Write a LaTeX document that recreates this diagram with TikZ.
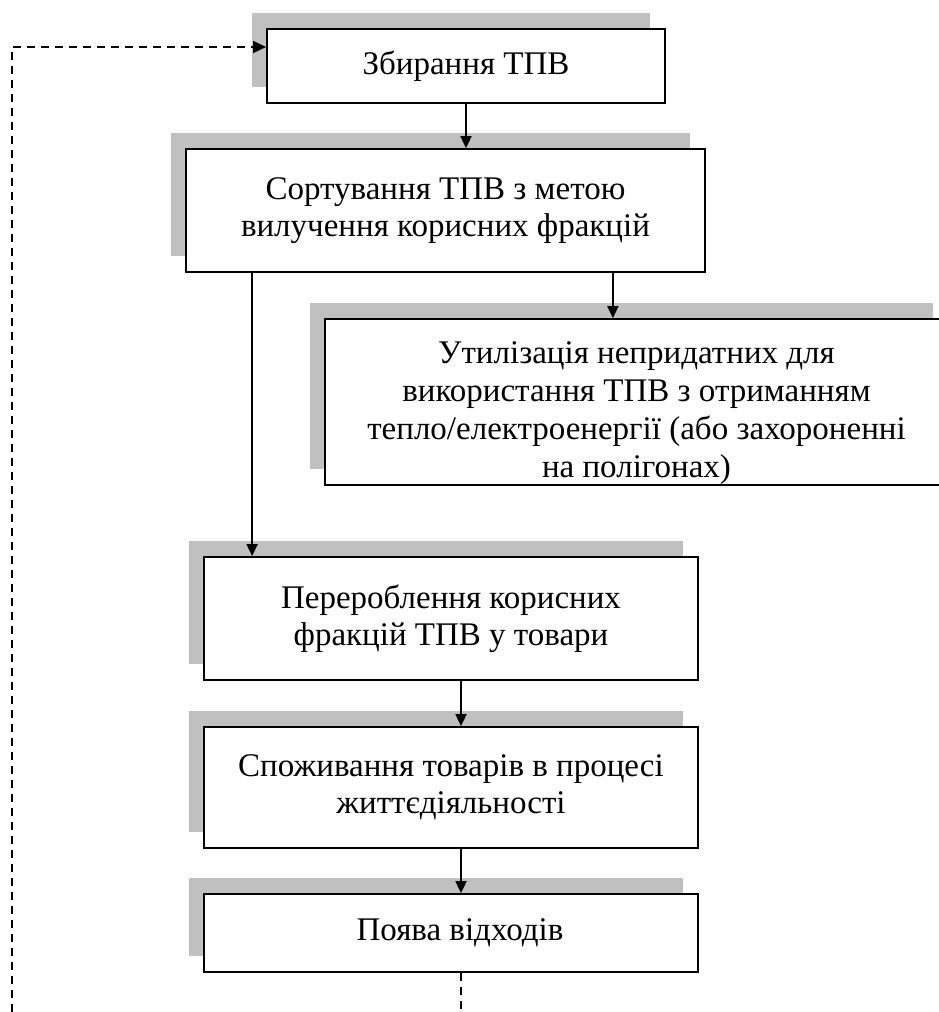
\documentclass[tikz,border=0pt]{standalone}
\usepackage{fontspec}
\setmainfont{Liberation Serif}
\usetikzlibrary{arrows.meta,shadows,calc}
\definecolor{shade}{RGB}{192,192,192}
\begin{document}
\begin{tikzpicture}[x=1pt,y=-1pt,
  box/.style={draw=black, line width=1.8pt, fill=white, align=center, inner sep=0pt,
    font=\fontsize{33}{37.5}\selectfont,
    general shadow={fill=shade, draw=none, shadow xshift=-15pt, shadow yshift=16pt}},
  arr/.style={line width=1.8pt, -{Triangle[length=12pt,width=11pt]}},
  dsh/.style={line width=1.5pt, dash pattern=on 8pt off 6pt}]
\useasboundingbox (0,0) rectangle (938,1012);
\node[box, minimum width=398pt, minimum height=74pt] (b1) at (466,66) {Збирання ТПВ};
\node[box, minimum width=519pt, minimum height=123pt] (b2) at (445.5,210.5) {Сортування ТПВ з метою\\вилучення корисних фракцій};
\node[box, minimum width=623pt, minimum height=164pt, font=\fontsize{33}{38.3}\selectfont] (b3) at (636.5,402) {\rule{0pt}{44pt}Утилізація непридатних для\\використання ТПВ з отриманням\\тепло/електроенергії (або захороненні\\на полігонах)};
\node[box, minimum width=494pt, minimum height=123pt] (b4) at (451,618.5) {Перероблення корисних\\фракцій ТПВ у товари};
\node[box, minimum width=494pt, minimum height=121pt] (b5) at (451,787.5) {Споживання товарів в процесі\\життєдіяльності};
\node[box, minimum width=494pt, minimum height=78pt] (b6) at (451,933) {\hspace*{18pt}Поява відходів};
\coordinate (db) at (461,1012);
\coordinate (lb) at (12,1012);
\draw[arr] (b1.south) -- (b1.south |- b2.north);
\draw[arr] ([xshift=49pt]b4.north west |- b2.south) -- ([xshift=49pt]b4.north west);
\draw[arr] ([xshift=-93pt]b2.south east) -- ([xshift=-93pt]b2.south east |- b3.north);
\draw[arr] ([xshift=10pt]b4.south) -- ([xshift=10pt]b5.north);
\draw[arr] ([xshift=10pt]b5.south) -- ([xshift=10pt]b6.north);
\draw[dsh] ([xshift=10pt]b6.south) -- (db);
\draw[dsh, -{Triangle[length=13pt,width=12pt]}] (lb) |- ([yshift=19pt]b1.west);
\end{tikzpicture}
\end{document}
